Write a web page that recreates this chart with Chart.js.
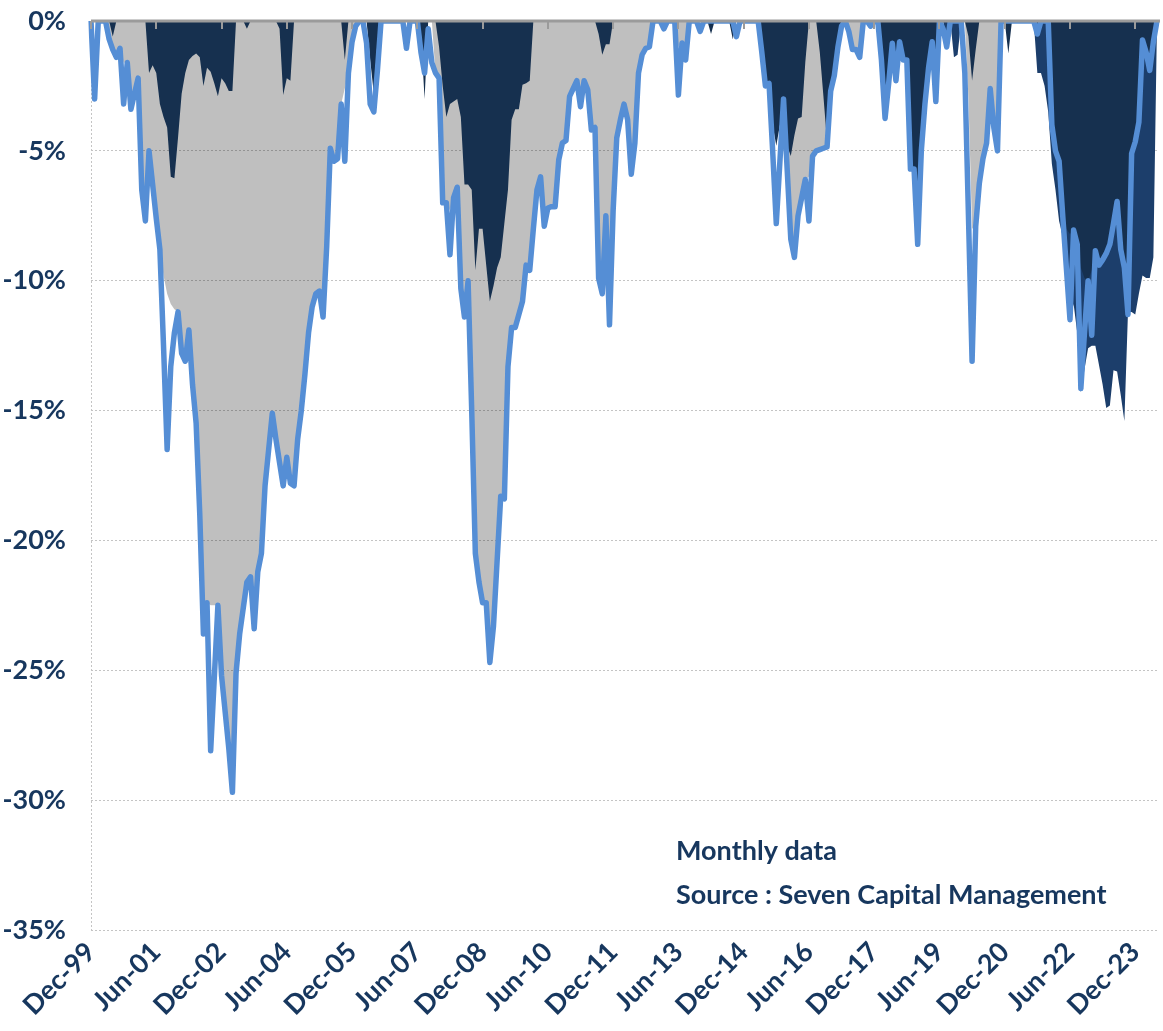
<!DOCTYPE html>
<html>
<head>
<meta charset="utf-8">
<script src="https://cdn.jsdelivr.net/npm/chart.js@4.4.1/dist/chart.umd.min.js"></script>
<style>
  html, body { margin: 0; background: #fff; }
  #wrap { width: 1163px; height: 1031px; position: relative; }
</style>
</head>
<body>
<div id="wrap"><canvas id="ddChart"></canvas></div>
<script>
// monthly categories, Dec-99 .. Jun-24
const monthNames = ["Jan", "Feb", "Mar", "Apr", "May", "Jun", "Jul", "Aug", "Sep", "Oct", "Nov", "Dec"];
const months = [];
for (let y = 1999, m = 11; months.length < 295;) {
  months.push(monthNames[m] + "-" + String(y % 100).padStart(2, "0"));
  if (++m === 12) { m = 0; y++; }
}
const labelEvery = 18;

// drawdown in %, one row per calendar year (first value = Dec-99)
const seriesLine = [0,
  -3.0, 0, 0, 0, -0.7, -1.1, -1.4, -1.05, -3.2, -1.6, -3.4, -2.8,
  -2.2, -6.5, -7.7, -5.0, -6.3, -7.6, -8.8, -12.5, -16.5, -13.3, -12.0, -11.2,
  -12.8, -13.1, -11.9, -14.0, -15.5, -19.0, -23.6, -22.4, -28.1, -25.3, -22.5, -25.2,
  -26.6, -28.0, -29.7, -25.1, -23.6, -22.6, -21.6, -21.4, -23.4, -21.2, -20.5, -17.9,
  -16.5, -15.1, -16.1, -17.0, -17.9, -16.8, -17.8, -17.9, -16.1, -15.0, -13.6, -12.0,
  -11.0, -10.5, -10.4, -11.4, -8.7, -4.9, -5.4, -5.3, -3.2, -5.4, -2.0, -0.8,
  -0.2, 0, 0, -0.85, -3.2, -3.5, -1.9, 0, 0, 0, 0, 0,
  0, 0, -1.05, 0, 0, 0, -1.2, -2.0, -0.3, -1.6, -2.0, -2.2,
  -7.0, -7.0, -9.0, -6.8, -6.4, -10.3, -11.4, -10.0, -15.0, -20.5, -21.6, -22.4,
  -22.4, -24.7, -23.3, -20.8, -18.3, -18.4, -13.3, -11.8, -11.8, -11.3, -10.8, -9.4,
  -9.6, -8.0, -6.5, -6.0, -7.9, -7.2, -7.15, -7.15, -5.35, -4.7, -4.6, -2.9,
  -2.6, -2.3, -3.3, -2.3, -2.65, -4.2, -4.1, -9.9, -10.5, -7.5, -11.7, -7.3,
  -4.5, -3.8, -3.2, -3.8, -5.9, -4.7, -2.0, -1.3, -1.05, -1.0, 0, 0,
  0, -0.3, 0, 0, 0, -2.85, -0.85, -1.5, 0, 0, 0, -0.4,
  0, 0, 0, 0, 0, 0, 0, 0, 0, -0.6, 0, 0,
  0, 0, 0, 0, -1.2, -2.5, -2.4, -5.0, -7.8, -5.4, -3.0, -5.7,
  -8.4, -9.1, -7.5, -6.8, -6.1, -7.7, -5.2, -5.0, -4.95, -4.9, -4.85, -2.7,
  -2.1, -1.0, -0.2, 0, -0.4, -1.1, -1.1, -1.4, 0, 0, -0.2, 0,
  0, -1.5, -3.75, -2.4, -0.86, -2.3, -0.8, -1.5, -1.5, -5.7, -5.7, -8.6,
  -5.0, -3.2, -1.8, -0.8, -3.1, 0, -0.3, -1.0, 0, 0, 0, 0,
  -2.0, -7.5, -13.1, -7.9, -6.25, -5.3, -4.7, -2.6, -4.1, -5.0, 0, 0,
  0, 0, 0, 0, 0, 0, 0, 0, -0.5, 0, 0, 0,
  -4.0, -5.0, -5.4, -7.5, -9.5, -11.5, -8.05, -8.6, -14.15, -12.0, -10.0, -12.1,
  -8.85, -9.4, -9.2, -8.95, -8.6, -7.8, -6.95, -8.8, -9.5, -11.3, -5.1, -4.65,
  -3.9, -0.73, -1.2, -1.9, -0.8, 0
];

const seriesGrey = [0,
  0, 0, 0, 0, -0.7, -1.1, -1.4, -1.05, -1.6, -1.6, -2.6, -2.8,
  -2.2, -6.5, -7.7, -5.0, -6.3, -7.6, -8.8, -9.8, -10.5, -10.9, -11.1, -11.2,
  -12.8, -13.1, -11.9, -14.0, -15.5, -19.0, -23.0, -22.4, -22.5, -22.5, -22.5, -25.2,
  -26.6, -28.0, -29.7, -25.1, -23.6, -22.6, -21.6, -21.4, -22.0, -21.2, -20.5, -17.9,
  -16.5, -15.1, -16.1, -17.0, -17.9, -16.8, -17.8, -17.9, -16.1, -15.0, -13.6, -12.0,
  -11.0, -10.5, -10.4, -11.4, -8.7, -4.9, -5.4, -5.3, -3.2, -2.6, -2.0, -0.8,
  -0.2, 0, 0, 0, 0, 0, 0, 0, 0, 0, 0, 0,
  0, 0, 0, 0, 0, 0, 0, 0, 0, 0, -2.0, -2.2,
  -7.0, -7.0, -7.3, -6.8, -6.4, -10.3, -11.4, -10.0, -15.0, -20.5, -21.6, -22.4,
  -22.4, -24.7, -23.3, -20.8, -18.3, -18.4, -13.3, -11.8, -11.8, -11.3, -10.8, -9.4,
  -9.6, -8.0, -6.5, -6.0, -7.9, -7.2, -7.15, -7.15, -5.35, -4.7, -4.6, -2.9,
  -2.6, -2.3, -3.3, -2.3, -2.65, -4.2, -4.1, -9.9, -10.5, -7.5, -10.0, -7.3,
  -4.5, -3.8, -3.2, -3.8, -5.9, -4.7, -2.0, -1.3, -1.05, -1.0, 0, 0,
  0, -0.3, 0, 0, 0, -1.0, -0.85, -1.5, 0, 0, 0, 0,
  0, 0, 0, 0, 0, 0, 0, 0, 0, 0, 0, 0,
  0, 0, 0, 0, 0, 0, 0, 0, 0, 0, -3.0, -5.7,
  -8.4, -9.1, -7.5, -6.8, -6.1, -6.0, -5.2, -5.0, -4.95, -4.9, -4.85, -2.7,
  -2.1, -1.0, -0.2, 0, -0.4, -1.1, -1.1, -1.1, 0, 0, 0, 0,
  0, 0, 0, 0, 0, 0, 0, 0, 0, 0, 0, 0,
  0, 0, 0, 0, 0, 0, 0, 0, 0, 0, 0, 0,
  0, -3.0, -8.0, -7.9, -6.25, -5.3, -4.7, -2.6, -4.1, -5.0, 0, 0,
  0, 0, 0, 0, 0, 0, 0, 0, 0, 0, 0, 0,
  0, 0, 0, 0, 0, 0, 0, 0, 0, 0, 0, 0,
  0, 0, 0, 0, 0, 0, 0, 0, 0, 0, 0, 0,
  0, 0, 0, 0, 0, 0
];

const seriesNavy = [0,
  0, 0, 0, 0, 0, -0.6, 0, 0, 0, 0, 0, 0,
  0, 0, 0, -2.0, -1.7, -2.0, -3.2, -3.7, -4.1, -6.0, -6.05, -4.5,
  -2.8, -2.0, -1.5, -1.35, -1.25, -1.4, -2.5, -1.8, -1.95, -2.4, -2.9, -2.2,
  -2.4, -2.7, -2.7, 0, 0, 0, -0.3, 0, 0, 0, 0, 0,
  0, 0, 0, -0.3, -2.85, -2.2, -2.3, 0, 0, 0, 0, 0,
  0, 0, 0, 0, 0, 0, 0, 0, 0, -1.5, 0, 0,
  0, 0, 0, 0, -1.5, -2.8, -0.8, 0, 0, 0, 0, 0,
  0, 0, 0, 0, 0, 0, -0.5, -3.0, 0, 0, 0, -1.0,
  -2.5, -3.7, -3.2, -3.1, -3.0, -3.7, -6.3, -6.3, -6.5, -9.6, -8.0, -8.0,
  -9.4, -10.8, -10.2, -9.5, -9.1, -7.8, -6.5, -3.8, -3.4, -3.4, -2.45, -2.4,
  -2.3, 0, 0, 0, 0, 0, 0, 0, 0, 0, 0, 0,
  0, 0, 0, 0, 0, 0, 0, -0.5, -1.3, -0.9, -0.9, 0,
  0, 0, 0, 0, 0, 0, 0, 0, 0, 0, 0, 0,
  0, 0, 0, 0, 0, 0, 0, 0, 0, 0, 0, 0,
  0, 0, -0.5, 0, 0, 0, 0, 0, -0.7, 0, 0, 0,
  0, 0, 0, 0, -1.2, -2.5, -2.4, -4.0, -4.8, -4.0, -3.0, -4.8,
  -5.2, -4.4, -3.75, -3.7, -1.6, 0, 0, 0, -1.2, -2.9, -4.65, -2.7,
  -2.1, -1.0, -0.2, 0, 0, 0, 0, 0, 0, 0, 0, 0,
  0, -1.5, -3.75, -2.4, -0.86, -2.3, -0.8, -1.5, -1.5, -5.7, -5.7, -8.3,
  -5.0, -3.2, -1.8, -0.8, -3.1, 0, 0, 0, 0, 0, 0, 0,
  0, -0.6, -2.3, -1.1, 0, 0, 0, 0, 0, 0, 0, 0,
  -1.25, 0, 0, 0, 0, 0, 0, 0, 0, 0, 0, 0,
  -4.0, -5.0, -5.4, -7.0, -8.0, -8.2, -8.05, -8.6, -9.5, -9.9, -10.0, -9.6,
  -8.85, -9.4, -9.2, -8.95, -8.6, -7.8, -6.95, -8.8, -9.5, -11.0, -5.1, -4.65,
  -3.9, -0.73, -1.2, -1.9, -0.8, 0
];

const seriesNavyLight = [0,
  0, 0, 0, 0, 0, 0, 0, 0, 0, 0, 0, 0,
  0, 0, 0, 0, 0, 0, 0, 0, 0, 0, 0, 0,
  0, 0, 0, 0, 0, 0, 0, 0, 0, 0, 0, 0,
  0, 0, 0, 0, 0, 0, 0, 0, 0, 0, 0, 0,
  0, 0, 0, 0, 0, 0, 0, 0, 0, 0, 0, 0,
  0, 0, 0, 0, 0, 0, 0, 0, 0, 0, 0, 0,
  0, 0, 0, 0, 0, 0, 0, 0, 0, 0, 0, 0,
  0, 0, 0, 0, 0, 0, 0, 0, 0, 0, 0, 0,
  0, 0, 0, 0, 0, 0, 0, 0, 0, 0, 0, 0,
  0, 0, 0, 0, 0, 0, 0, 0, 0, 0, 0, 0,
  0, 0, 0, 0, 0, 0, 0, 0, 0, 0, 0, 0,
  0, 0, 0, 0, 0, 0, 0, 0, 0, 0, 0, 0,
  0, 0, 0, 0, 0, 0, 0, 0, 0, 0, 0, 0,
  0, 0, 0, 0, 0, 0, 0, 0, 0, 0, 0, 0,
  0, 0, 0, 0, 0, 0, 0, 0, 0, 0, 0, 0,
  0, 0, 0, 0, 0, 0, 0, 0, 0, 0, 0, 0,
  0, 0, 0, 0, 0, 0, 0, 0, 0, 0, 0, 0,
  0, 0, 0, 0, 0, 0, 0, 0, 0, 0, 0, 0,
  0, 0, 0, 0, 0, 0, 0, 0, 0, 0, 0, 0,
  0, 0, 0, 0, 0, 0, 0, -0.8, 0, -1.4, -1.3, 0,
  0, 0, 0, 0, 0, 0, 0, 0, 0, 0, 0, 0,
  0, 0, 0, 0, 0, 0, 0, 0, -2.0, -2.0, -2.5, -3.5,
  -5.5, -6.5, -7.7, -8.3, -9.0, -11.5, -10.9, -12.0, -14.3, -13.4, -12.6, -12.5,
  -12.5, -13.25, -14.0, -14.9, -14.8, -13.45, -13.5, -14.4, -15.4, -11.2, -11.2, -11.3,
  -10.5, -9.8, -9.9, -9.9, -9.1, 0
];

const notes = ["Monthly data", "Source : Seven Capital Management"];

const textColor = "#17375e";
const fontFamily = "Lato, 'Open Sans', sans-serif";
const fontSize = 27;

Chart.defaults.font.family = fontFamily;
Chart.defaults.font.weight = "bold";
Chart.defaults.font.size = fontSize;
Chart.defaults.color = textColor;

// top axis line + inside ticks, and the source notes
const overlay = {
  id: "overlay",
  afterDatasetsDraw(chart) {
    const { ctx, chartArea: a, scales: { x, y } } = chart;
    const y0 = y.getPixelForValue(0);
    ctx.save();
    ctx.strokeStyle = "#9b9b9b";
    ctx.lineWidth = 3;
    ctx.beginPath();
    ctx.moveTo(a.left, y0);
    ctx.lineTo(a.right + 3, y0);
    ctx.stroke();
    ctx.lineWidth = 2;
    ctx.beginPath();
    months.forEach((m, i) => {
      if (i % labelEvery !== 0) return;
      const px = Math.round(x.getPixelForValue(i));
      ctx.moveTo(px, y0);
      ctx.lineTo(px, y0 + 8);
    });
    ctx.stroke();

    ctx.fillStyle = textColor;
    ctx.font = `bold ${fontSize}px ${fontFamily}`;
    ctx.textAlign = "left";
    ctx.textBaseline = "alphabetic";
    ctx.fillText(notes[0], 676, 860);
    ctx.fillText(notes[1], 676, 904);
    ctx.restore();
  }
};

const areaStyle = { borderWidth: 0, borderColor: "rgba(0,0,0,0)", pointRadius: 0, fill: "origin" };

new Chart(document.getElementById("ddChart"), {
  type: "line",
  data: {
    labels: months,
    datasets: [
      { data: seriesLine, borderColor: "#558ed5", borderWidth: 5.5, pointRadius: 0, fill: false,
        borderJoinStyle: "round", borderCapStyle: "round", order: 0 },
      { ...areaStyle, data: seriesNavy, backgroundColor: "#16304f", order: 1 },
      { ...areaStyle, data: seriesNavyLight, backgroundColor: "#1c3e6b", order: 2 },
      { ...areaStyle, data: seriesGrey, backgroundColor: "rgba(0,0,0,0.25)", order: 3 }
    ]
  },
  options: {
    responsive: true,
    maintainAspectRatio: false,
    animation: false,
    layout: { padding: { top: 21, right: 6, left: 0, bottom: 0 } },
    plugins: { legend: { display: false }, tooltip: { enabled: false } },
    scales: {
      x: {
        grid: { drawTicks: false, color: c => c.index === 0 ? "#c4c4c4" : "rgba(0,0,0,0)" },
        border: { display: false, dash: [2, 2] },
        ticks: {
          autoSkip: false, minRotation: 45, maxRotation: 45, padding: 6,
          callback: (v, i) => i % labelEvery === 0 ? months[i] : ""
        },
        afterFit: s => { s.height = 101; s.paddingLeft = 0; s.paddingRight = 0; }
      },
      y: {
        min: -35, max: 0,
        ticks: { stepSize: 5, padding: 25, callback: v => v + "%" },
        grid: { drawTicks: false, color: "#c4c4c4" },
        border: { display: false, dash: [2, 2] },
        afterFit: s => { s.width = 91; s.paddingTop = 0; s.paddingBottom = 0; }
      }
    }
  },
  plugins: [overlay]
});
</script>
</body>
</html>
